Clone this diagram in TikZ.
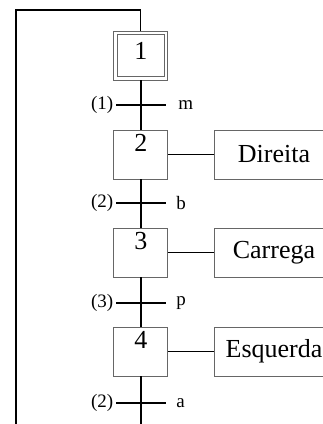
\documentclass[tikz,border=0pt]{standalone}
\usepackage{fontspec}
\setmainfont{Liberation Serif}

\begin{document}
\begin{tikzpicture}[x=1cm, y=1cm,
        etapa/.style={draw=black!60, line width=0.7pt, minimum width=1.35cm, text height=0.55cm, text depth=0.675cm, inner sep=0pt, font=\fontsize{18.5}{20}\selectfont},
        inicial/.style={etapa, text height=0.72cm, text depth=0.505cm},
        acao/.style={draw=black!60, line width=0.7pt, minimum width=3cm, minimum height=1.225cm, inner sep=0pt, font=\fontsize{18.5}{20}\selectfont},
        trans/.style={fill=black, minimum width=1.25cm, minimum height=0.05cm, inner sep=0pt},
        rotulo/.style={font=\fontsize{13.5}{15}\selectfont, inner sep=0pt},
        liga/.style={line width=1.4pt},
        retorno/.style={line width=0.95pt}]
        \useasboundingbox (0,0) rectangle (8.05,10.6);

        % Steps
        \node [inicial] (1) at (3.52,9.2125) {1};
        \draw [draw=black!60, line width=0.7pt] ([shift={(0.1,-0.1)}]1.north west) rectangle ([shift={(-0.1,0.1)}]1.south east);
        \node [etapa] (2) at (3.52,6.7375) {2};
        \node [etapa] (3) at (3.52,4.2875) {3};
        \node [etapa] (4) at (3.52,1.8125) {4};

        % Actions
        \node [acao] (a2) at (6.85,6.7375) {Direita};
        \node [acao] (a3) at (6.85,4.2875) {Carrega};
        \node [acao] (a4) at (6.85,1.8125) {Esquerda};

        % Transitions
        \node [trans, label={[rotulo, label distance=0.05cm]left:(1)}, label={[rotulo, label distance=0.3cm]right:m}] (t1) at (3.52,7.975) {};
        \node [trans, label={[rotulo, label distance=0.05cm]left:(2)}, label={[rotulo, label distance=0.25cm]right:b}] (t2) at (3.52,5.525) {};
        \node [trans, label={[rotulo, label distance=0.05cm]left:(3)}, label={[rotulo, label distance=0.25cm]right:p}] (t3) at (3.52,3.025) {};
        \node [trans, label={[rotulo, label distance=0.05cm]left:(2)}, label={[rotulo, label distance=0.25cm]right:a}] (t4) at (3.52,0.525) {};

        % Links
        \coordinate (fim) at (3.52,-0.3);
        \coordinate (base) at (0.4,-0.3);
        \coordinate (topo) at (0.4,10.35);
        \draw [liga] (1) -- (t1) -- (2) -- (t2) -- (3) -- (t3) -- (4) -- (t4) -- (fim);
        \draw [liga] (2) -- (a2);
        \draw [liga] (3) -- (a3);
        \draw [liga] (4) -- (a4);
        \draw [retorno] (base) -- (topo) -| (1.north);
    \end{tikzpicture}
\end{document}
